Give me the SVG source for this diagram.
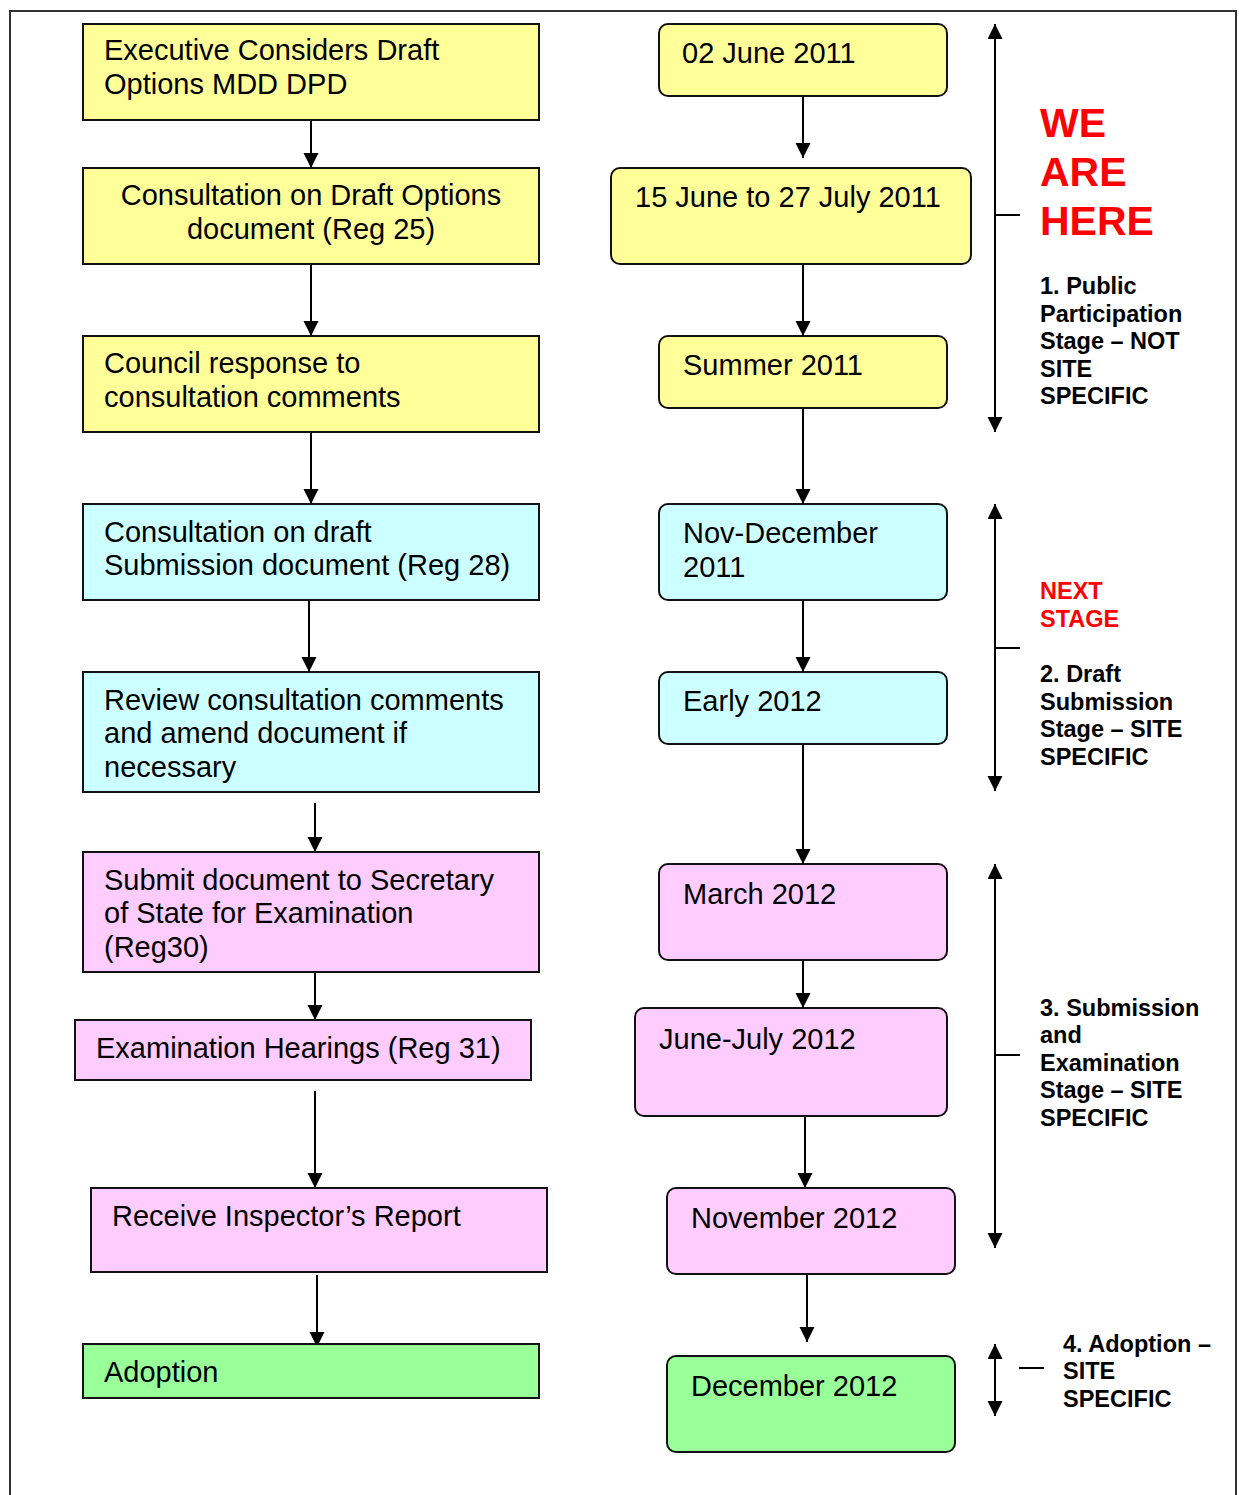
<svg xmlns="http://www.w3.org/2000/svg" width="1239" height="1495" viewBox="0 0 1239 1495">
<style>
.box{stroke:#111;stroke-width:2}
.y{fill:#FFFF99}.c{fill:#CCFFFF}.p{fill:#FFCCFF}.g{fill:#99FF99}
.t{font-family:"Liberation Sans",Arial,sans-serif;font-size:29px;fill:#000}
.b{font-family:"Liberation Sans",Arial,sans-serif;font-size:23.5px;font-weight:bold;fill:#000}
.r{fill:#FF0000}
.big{font-size:41px}
.ln{stroke:#000;stroke-width:2;fill:none}
.a{marker-end:url(#ah)}
.d{marker-end:url(#ah);marker-start:url(#ah)}
</style>
<defs>
<marker id="ah" markerUnits="userSpaceOnUse" markerWidth="16" markerHeight="16" refX="15" refY="7.5" orient="auto-start-reverse" viewBox="0 0 16 16">
<path d="M0,0 L15,7.5 L0,15 z" fill="#000"/>
</marker>
</defs>
<rect width="1239" height="1495" fill="#fff"/>
<path d="M10,1495 V11 H1236 V1495" fill="none" stroke="#333" stroke-width="2"/>

<g id="connectors">
<line class="ln a" x1="311" y1="120" x2="311" y2="168"/>
<line class="ln a" x1="311" y1="264" x2="311" y2="336"/>
<line class="ln a" x1="311" y1="432" x2="311" y2="504"/>
<line class="ln a" x1="309" y1="600" x2="309" y2="672"/>
<line class="ln a" x1="315" y1="803" x2="315" y2="852"/>
<line class="ln a" x1="315" y1="972" x2="315" y2="1020"/>
<line class="ln a" x1="315" y1="1091" x2="315" y2="1188"/>
<line class="ln a" x1="317" y1="1275" x2="317" y2="1347"/>
<line class="ln a" x1="803" y1="96" x2="803" y2="158"/>
<line class="ln a" x1="803" y1="264" x2="803" y2="336"/>
<line class="ln a" x1="803" y1="408" x2="803" y2="504"/>
<line class="ln a" x1="803" y1="600" x2="803" y2="672"/>
<line class="ln a" x1="803" y1="744" x2="803" y2="864"/>
<line class="ln a" x1="803" y1="960" x2="803" y2="1008"/>
<line class="ln a" x1="805" y1="1116" x2="805" y2="1188"/>
<line class="ln a" x1="807" y1="1270" x2="807" y2="1342"/>
<line class="ln d" x1="995" y1="24" x2="995" y2="432"/>
<line class="ln" x1="995" y1="215" x2="1020" y2="215"/>
<line class="ln d" x1="995" y1="504" x2="995" y2="791"/>
<line class="ln" x1="995" y1="648" x2="1020" y2="648"/>
<line class="ln d" x1="995" y1="864" x2="995" y2="1248"/>
<line class="ln" x1="995" y1="1055" x2="1020" y2="1055"/>
<line class="ln d" x1="995" y1="1344" x2="995" y2="1416"/>
<line class="ln" x1="1019" y1="1368" x2="1044" y2="1368"/>
</g>

<g id="n1"><rect class="box y" x="83" y="24" width="456" height="96"/><text class="t" x="104" y="60">Executive Considers Draft</text><text class="t" x="104" y="94">Options MDD DPD</text></g>
<g id="n2"><rect class="box y" x="83" y="168" width="456" height="96"/><text class="t" x="311" y="205" text-anchor="middle">Consultation on Draft Options</text><text class="t" x="311" y="239" text-anchor="middle">document (Reg 25)</text></g>
<g id="n3"><rect class="box y" x="83" y="336" width="456" height="96"/><text class="t" x="104" y="373">Council response to</text><text class="t" x="104" y="407">consultation comments</text></g>
<g id="n4"><rect class="box c" x="83" y="504" width="456" height="96"/><text class="t" x="104" y="542">Consultation on draft</text><text class="t" x="104" y="575">Submission document (Reg 28)</text></g>
<g id="n5"><rect class="box c" x="83" y="672" width="456" height="120"/><text class="t" x="104" y="710">Review consultation comments</text><text class="t" x="104" y="743">and amend document if</text><text class="t" x="104" y="777">necessary</text></g>
<g id="n6"><rect class="box p" x="83" y="852" width="456" height="120"/><text class="t" x="104" y="890">Submit document to Secretary</text><text class="t" x="104" y="923">of State for Examination</text><text class="t" x="104" y="957">(Reg30)</text></g>
<g id="n7"><rect class="box p" x="75" y="1020" width="456" height="60"/><text class="t" x="96" y="1058">Examination Hearings (Reg 31)</text></g>
<g id="n8"><rect class="box p" x="91" y="1188" width="456" height="84"/><text class="t" x="112" y="1226">Receive Inspector’s Report</text></g>
<g id="n9"><rect class="box g" x="83" y="1344" width="456" height="54"/><text class="t" x="104" y="1382">Adoption</text></g>

<g id="d1"><rect class="box y" x="659" y="24" width="288" height="72" rx="9"/><text class="t" x="682" y="63">02 June 2011</text></g>
<g id="d2"><rect class="box y" x="611" y="168" width="360" height="96" rx="9"/><text class="t" x="635" y="207">15 June to 27 July 2011</text></g>
<g id="d3"><rect class="box y" x="659" y="336" width="288" height="72" rx="9"/><text class="t" x="683" y="375">Summer 2011</text></g>
<g id="d4"><rect class="box c" x="659" y="504" width="288" height="96" rx="9"/><text class="t" x="683" y="543">Nov-December</text><text class="t" x="683" y="577">2011</text></g>
<g id="d5"><rect class="box c" x="659" y="672" width="288" height="72" rx="9"/><text class="t" x="683" y="711">Early 2012</text></g>
<g id="d6"><rect class="box p" x="659" y="864" width="288" height="96" rx="9"/><text class="t" x="683" y="904">March 2012</text></g>
<g id="d7"><rect class="box p" x="635" y="1008" width="312" height="108" rx="9"/><text class="t" x="659" y="1049">June-July 2012</text></g>
<g id="d8"><rect class="box p" x="667" y="1188" width="288" height="86" rx="9"/><text class="t" x="691" y="1228">November 2012</text></g>
<g id="d9"><rect class="box g" x="667" y="1356" width="288" height="96" rx="9"/><text class="t" x="691" y="1396">December 2012</text></g>

<g id="stage1">
<text class="b r big" x="1040" y="137">WE</text><text class="b r big" x="1040" y="186">ARE</text><text class="b r big" x="1040" y="235">HERE</text>
<text class="b" x="1040" y="294">1. Public</text><text class="b" x="1040" y="322">Participation</text><text class="b" x="1040" y="349">Stage – NOT</text><text class="b" x="1040" y="377">SITE</text><text class="b" x="1040" y="404">SPECIFIC</text>
</g>
<g id="stage2">
<text class="b r" x="1040" y="599">NEXT</text><text class="b r" x="1040" y="627">STAGE</text>
<text class="b" x="1040" y="682">2. Draft</text><text class="b" x="1040" y="710">Submission</text><text class="b" x="1040" y="737">Stage – SITE</text><text class="b" x="1040" y="765">SPECIFIC</text>
</g>
<g id="stage3">
<text class="b" x="1040" y="1016">3. Submission</text><text class="b" x="1040" y="1043">and</text><text class="b" x="1040" y="1071">Examination</text><text class="b" x="1040" y="1098">Stage – SITE</text><text class="b" x="1040" y="1126">SPECIFIC</text>
</g>
<g id="stage4">
<text class="b" x="1063" y="1352">4. Adoption –</text><text class="b" x="1063" y="1379">SITE</text><text class="b" x="1063" y="1407">SPECIFIC</text>
</g>
</svg>
